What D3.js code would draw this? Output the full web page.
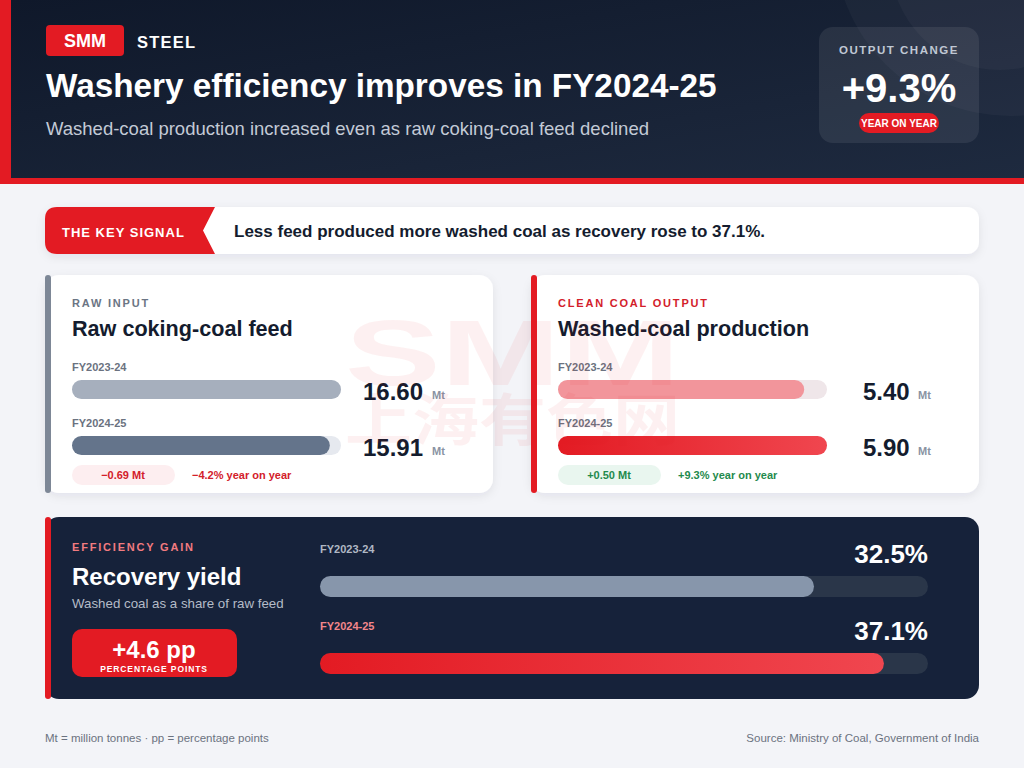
<!DOCTYPE html>
<html>
<head>
<meta charset="utf-8">
<script src="https://cdn.jsdelivr.net/npm/d3@7"></script>
<style>
  body { margin: 0; background: #f3f4f8; }
  svg { display: block; font-family: "Liberation Sans", Arial, sans-serif; }
</style>
</head>
<body>
<script>
// chart data
var years = ["FY2023-24", "FY2024-25"];
var rawFeed = [16.60, 15.91];        // Mt
var washedCoal = [5.40, 5.90];       // Mt
var recoveryYield = [32.5, 37.1];    // %
var yieldMax = 40;

var W = 1024, H = 768;
var red = "#e31b23", navy = "#16223a", ink = "#141c2e";

var svg = d3.select("body").append("svg")
    .attr("width", W).attr("height", H);

var defs = svg.append("defs");

var hg = defs.append("linearGradient").attr("id", "hdr")
    .attr("x1", 0).attr("y1", 0).attr("x2", 1).attr("y2", 1);
hg.append("stop").attr("offset", 0).attr("stop-color", "#0f182a");
hg.append("stop").attr("offset", 1).attr("stop-color", "#1e2a3f");

var rg = defs.append("linearGradient").attr("id", "redbar");
rg.append("stop").attr("offset", 0).attr("stop-color", "#e31b23");
rg.append("stop").attr("offset", 1).attr("stop-color", "#f0464f");

var sh = defs.append("filter").attr("id", "shadow")
    .attr("x", "-10%").attr("y", "-10%").attr("width", "120%").attr("height", "130%");
sh.append("feDropShadow").attr("dx", 0).attr("dy", 3).attr("stdDeviation", 5)
    .attr("flood-color", "#1a2540").attr("flood-opacity", 0.08);

// background
svg.append("rect").attr("width", W).attr("height", H).attr("fill", "#f3f4f8");

// header
svg.append("rect").attr("width", W).attr("height", 184).attr("fill", red);
svg.append("rect").attr("x", 11).attr("width", W - 11).attr("height", 178).attr("fill", "url(#hdr)");
svg.append("circle").attr("cx", 1010).attr("cy", -60).attr("r", 176)
    .attr("fill", "#ffffff").attr("opacity", 0.03);
svg.append("circle").attr("cx", 1000).attr("cy", -40).attr("r", 110)
    .attr("fill", "#ffffff").attr("opacity", 0.03);

svg.append("rect").attr("x", 46).attr("y", 25).attr("width", 78).attr("height", 31)
    .attr("rx", 4).attr("fill", red);
svg.append("text").attr("x", 85).attr("y", 47).attr("text-anchor", "middle")
    .attr("fill", "#fff").attr("font-size", 18).attr("font-weight", 700).text("SMM");
svg.append("text").attr("x", 137).attr("y", 48).attr("fill", "#fff")
    .attr("font-size", 16.5).attr("font-weight", 700).attr("letter-spacing", 1.2).text("STEEL");

svg.append("text").attr("x", 46).attr("y", 97).attr("fill", "#fff")
    .attr("font-size", 33.3).attr("font-weight", 700)
    .text("Washery efficiency improves in FY2024-25");
svg.append("text").attr("x", 46).attr("y", 135).attr("fill", "#c3cad6")
    .attr("font-size", 18.5)
    .text("Washed-coal production increased even as raw coking-coal feed declined");

// output change box
var pct = (washedCoal[1] / washedCoal[0] - 1) * 100;
svg.append("rect").attr("x", 819).attr("y", 27).attr("width", 160).attr("height", 116)
    .attr("rx", 14).attr("fill", "#ffffff").attr("opacity", 0.08);
svg.append("text").attr("x", 899).attr("y", 54).attr("text-anchor", "middle")
    .attr("fill", "#c0c8d4").attr("font-size", 11.5).attr("font-weight", 700)
    .attr("letter-spacing", 1.5).text("OUTPUT CHANGE");
svg.append("text").attr("x", 899).attr("y", 102).attr("text-anchor", "middle")
    .attr("fill", "#fff").attr("font-size", 40).attr("font-weight", 700)
    .text("+" + pct.toFixed(1) + "%");
svg.append("rect").attr("x", 859).attr("y", 113).attr("width", 80).attr("height", 20)
    .attr("rx", 10).attr("fill", red);
svg.append("text").attr("x", 899).attr("y", 127).attr("text-anchor", "middle")
    .attr("fill", "#fff").attr("font-size", 10).attr("font-weight", 700).text("YEAR ON YEAR");

// key signal strip
svg.append("rect").attr("x", 45).attr("y", 207).attr("width", 934).attr("height", 47)
    .attr("rx", 12).attr("fill", "#fff").attr("filter", "url(#shadow)");
svg.append("path")
    .attr("d", "M57,207 L215,207 L203,230.5 L215,254 L57,254 Q45,254 45,242 L45,219 Q45,207 57,207 Z")
    .attr("fill", red);
svg.append("text").attr("x", 62).attr("y", 237).attr("fill", "#fff")
    .attr("font-size", 13).attr("font-weight", 700).attr("letter-spacing", 1)
    .text("THE KEY SIGNAL");
svg.append("text").attr("x", 234).attr("y", 237).attr("fill", ink)
    .attr("font-size", 17).attr("font-weight", 700)
    .text("Less feed produced more washed coal as recovery rose to " + recoveryYield[1] + "%.");

// watermark (faint, behind the card contents)
function watermark() {
    var wm = svg.append("g").attr("opacity", 0.06).attr("fill", red);
    wm.append("text").attr("x", 345).attr("y", 385)
        .attr("textLength", 335).attr("lengthAdjust", "spacingAndGlyphs")
        .attr("font-size", 92).attr("font-weight", 700).text("SMM");
    wm.append("text").attr("x", 345).attr("y", 440)
        .attr("textLength", 335).attr("lengthAdjust", "spacingAndGlyphs")
        .attr("font-family", "Noto Sans CJK SC").attr("font-size", 56).attr("font-weight", 700)
        .text("上海有色网");
}

// a small card with two bars
function card(opt) {
    var g = svg.append("g").attr("transform", "translate(" + opt.x + ",275)");
    g.append("rect").attr("width", 448).attr("height", 218).attr("rx", 14)
        .attr("fill", "#fff").attr("filter", "url(#shadow)");
    g.append("rect").attr("width", 6).attr("height", 218).attr("rx", 3).attr("fill", opt.accent);
    return g;
}

function cardContent(g, opt) {
    g.append("text").attr("x", 27).attr("y", 32).attr("fill", opt.kickerColor)
        .attr("font-size", 11).attr("font-weight", 700).attr("letter-spacing", 1.8).text(opt.kicker);
    g.append("text").attr("x", 27).attr("y", 61).attr("fill", ink)
        .attr("font-size", 21.6).attr("font-weight", 700).text(opt.title);

    var x = d3.scaleLinear().domain([0, d3.max(opt.values)]).range([0, 269]);
    var rows = g.selectAll(".row").data(opt.values).enter().append("g")
        .attr("transform", function(d, i) { return "translate(27," + (92 + i * 56) + ")"; });
    rows.append("text").attr("y", 4).attr("fill", "#6b7280")
        .attr("font-size", 11).attr("font-weight", 700)
        .text(function(d, i) { return years[i]; });
    rows.append("rect").attr("y", 13).attr("height", 19).attr("rx", 9.5)
        .attr("width", x.range()[1]).attr("fill", opt.track);
    rows.append("rect").attr("y", 13).attr("height", 19).attr("rx", 9.5)
        .attr("width", function(d) { return x(d); })
        .attr("fill", function(d, i) { return opt.fills[i]; });
    rows.append("text").attr("x", opt.valX).attr("y", 33).attr("fill", ink)
        .attr("font-size", 24).attr("font-weight", 700)
        .text(function(d) { return d.toFixed(2); });
    rows.append("text").attr("x", 360).attr("y", 32).attr("fill", "#8a93a3")
        .attr("font-size", 11).attr("font-weight", 700).text("Mt");

    var diff = opt.values[1] - opt.values[0];
    var chg = diff / opt.values[0] * 100;
    var sign = diff < 0 ? "\u2212" : "+";
    g.append("rect").attr("x", 27).attr("y", 190).attr("width", 103).attr("height", 20)
        .attr("rx", 10).attr("fill", opt.pill);
    g.append("text").attr("x", 78).attr("y", 204).attr("text-anchor", "middle")
        .attr("fill", opt.deltaColor).attr("font-size", 11).attr("font-weight", 700)
        .text(sign + Math.abs(diff).toFixed(2) + " Mt");
    g.append("text").attr("x", 147).attr("y", 204)
        .attr("fill", opt.deltaColor).attr("font-size", 11).attr("font-weight", 700)
        .text(sign + Math.abs(chg).toFixed(1) + "% year on year");
}

var rawOpt = { x: 45, accent: "#7d8796", kicker: "RAW INPUT", kickerColor: "#6b7584",
       title: "Raw coking-coal feed", values: rawFeed, track: "#e6e9ef",
       fills: ["#a6afbd", "#64748b"], valX: 291,
       pill: "#fdeef0", deltaColor: "#d3202a" };
var washOpt = { x: 531, accent: red, kicker: "CLEAN COAL OUTPUT", kickerColor: "#d3202a",
       title: "Washed-coal production", values: washedCoal, track: "#efe6e9",
       fills: ["#f2959b", "url(#redbar)"], valX: 305,
       pill: "#e9f6ef", deltaColor: "#1f8a4d" };
var g1 = card(rawOpt), g2 = card(washOpt);
watermark();
cardContent(g1, rawOpt);
cardContent(g2, washOpt);

// recovery yield panel
var p = svg.append("g").attr("transform", "translate(45,517)");
p.append("rect").attr("width", 934).attr("height", 182).attr("rx", 14).attr("fill", navy);
p.append("rect").attr("width", 6).attr("height", 182).attr("rx", 3).attr("fill", red);
p.append("text").attr("x", 27).attr("y", 34).attr("fill", "#f27b80")
    .attr("font-size", 11).attr("font-weight", 700).attr("letter-spacing", 1.8).text("EFFICIENCY GAIN");
p.append("text").attr("x", 27).attr("y", 68).attr("fill", "#fff")
    .attr("font-size", 24).attr("font-weight", 700).text("Recovery yield");
p.append("text").attr("x", 27).attr("y", 91).attr("fill", "#b4bcc8")
    .attr("font-size", 13.3).text("Washed coal as a share of raw feed");
p.append("rect").attr("x", 27).attr("y", 112).attr("width", 165).attr("height", 48)
    .attr("rx", 10).attr("fill", red);
p.append("text").attr("x", 109).attr("y", 141).attr("text-anchor", "middle")
    .attr("fill", "#fff").attr("font-size", 24).attr("font-weight", 700)
    .text("+" + (recoveryYield[1] - recoveryYield[0]).toFixed(1) + " pp");
p.append("text").attr("x", 109).attr("y", 155).attr("text-anchor", "middle")
    .attr("fill", "#fff").attr("font-size", 8.5).attr("font-weight", 700)
    .attr("letter-spacing", 0.9).text("PERCENTAGE POINTS");

var yx = d3.scaleLinear().domain([0, yieldMax]).range([0, 608]);
var yr = p.selectAll(".yrow").data(recoveryYield).enter().append("g")
    .attr("transform", function(d, i) { return "translate(275," + (36 + i * 77) + ")"; });
yr.append("text").attr("y", 0)
    .attr("fill", function(d, i) { return i ? "#f3868b" : "#b0b8c4"; })
    .attr("font-size", 11).attr("font-weight", 700)
    .text(function(d, i) { return years[i]; });
yr.append("text").attr("x", yx.range()[1]).attr("y", 10).attr("text-anchor", "end")
    .attr("fill", "#fff").attr("font-size", 26).attr("font-weight", 700)
    .text(function(d) { return d.toFixed(1) + "%"; });
yr.append("rect").attr("y", 23).attr("height", 21).attr("rx", 10.5)
    .attr("width", yx(yieldMax)).attr("fill", "#2a3649");
yr.append("rect").attr("y", 23).attr("height", 21).attr("rx", 10.5)
    .attr("width", function(d) { return yx(d); })
    .attr("fill", function(d, i) { return i ? "url(#redbar)" : "#8796ab"; });

// footer
svg.append("text").attr("x", 45).attr("y", 742).attr("fill", "#6b7280")
    .attr("font-size", 11.5).text("Mt = million tonnes \u00b7 pp = percentage points");
svg.append("text").attr("x", 979).attr("y", 742).attr("text-anchor", "end")
    .attr("fill", "#6b7280").attr("font-size", 11.5)
    .text("Source: Ministry of Coal, Government of India");
</script>
</body>
</html>
